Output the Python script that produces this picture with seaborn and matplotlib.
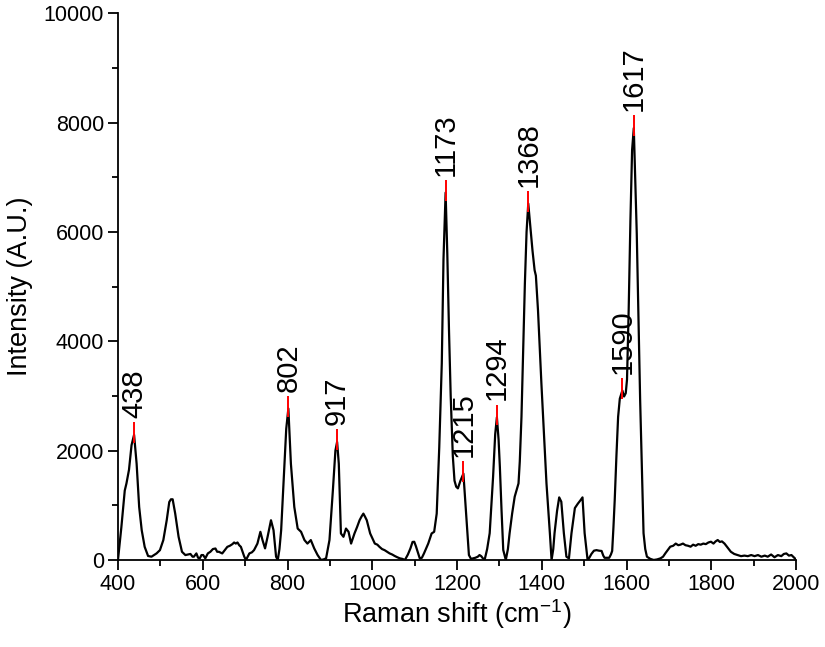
import numpy as np
import pandas as pd
import matplotlib
matplotlib.use("Agg")
import matplotlib.pyplot as plt
from matplotlib.ticker import MultipleLocator
import seaborn as sns

# Raman spectrum
raman_shift = [
    400, 408, 416, 420, 426, 432, 438, 444, 450, 456, 463, 471, 479, 487, 491, 499,
    507, 515, 521, 525, 529, 535, 543, 551, 559, 565, 571, 576, 579, 585, 589, 593,
    597, 601, 606, 612, 618, 624, 630, 634, 638, 646, 652, 658, 664, 670, 674, 678,
    682, 686, 690, 694, 698, 702, 706, 710, 716, 721, 729, 736, 741, 747, 753, 761,
    767, 773, 777, 781, 785, 793, 797, 802, 808, 816, 824, 832, 840, 847, 855, 863,
    871, 879, 885, 891, 899, 907, 913, 917, 921, 926, 932, 938, 944, 950, 958, 964,
    970, 975, 979, 983, 987, 995, 1006, 1012, 1017, 1023, 1029, 1035, 1041, 1047, 1053, 1059,
    1065, 1071, 1077, 1084, 1090, 1095, 1099, 1103, 1107, 1112, 1117, 1122, 1132, 1140, 1146, 1152,
    1158, 1164, 1168, 1173, 1177, 1181, 1185, 1190, 1194, 1198, 1202, 1208, 1215, 1222, 1228, 1233,
    1238, 1243, 1249, 1253, 1257, 1261, 1265, 1271, 1277, 1285, 1290, 1294, 1298, 1301, 1305, 1309,
    1315, 1320, 1324, 1330, 1336, 1345, 1348, 1352, 1356, 1360, 1364, 1368, 1373, 1378, 1383, 1386,
    1391, 1395, 1399, 1405, 1411, 1419, 1423, 1427, 1430, 1436, 1441, 1446, 1452, 1458, 1464, 1470,
    1478, 1485, 1491, 1496, 1501, 1508, 1512, 1517, 1523, 1529, 1535, 1541, 1545, 1548, 1554, 1559,
    1563, 1566, 1569, 1572, 1576, 1580, 1584, 1590, 1594, 1598, 1601, 1605, 1609, 1613, 1617, 1620,
    1624, 1628, 1632, 1636, 1640, 1644, 1648, 1656, 1664, 1672, 1680, 1686, 1692, 1698, 1703, 1710,
    1716, 1722, 1727, 1733, 1739, 1745, 1751, 1757, 1763, 1769, 1775, 1781, 1787, 1793, 1799, 1805,
    1810, 1815, 1820, 1825, 1831, 1838, 1846, 1854, 1862, 1870, 1878, 1886, 1894, 1902, 1910, 1918,
    1926, 1933, 1941, 1949, 1957, 1965, 1971, 1977, 1983, 1989, 1993, 1997, 2000,
]
intensity = [
    0, 600, 1270, 1400, 1650, 2100, 2290, 1760, 970, 545, 240, 73, 60, 100, 120, 180,
    364, 727, 1060, 1110, 1110, 850, 424, 150, 90, 100, 110, 60, 60, 120, 40, 30,
    90, 90, 30, 120, 150, 200, 210, 150, 150, 120, 180, 240, 260, 290, 320, 300,
    320, 270, 240, 150, 60, 0, 60, 120, 140, 180, 300, 515, 364, 212, 424, 727,
    545, 60, 0, 200, 545, 1760, 2400, 2770, 1760, 970, 575, 515, 364, 300, 364, 212,
    90, 0, 10, 30, 364, 1270, 2000, 2160, 1760, 485, 424, 575, 515, 300, 485, 600,
    727, 800, 848, 790, 727, 485, 300, 280, 240, 200, 180, 150, 120, 100, 73, 50,
    30, 20, 0, 100, 212, 330, 333, 250, 150, 30, 40, 120, 300, 485, 515, 848,
    2060, 3600, 5500, 6720, 5600, 4200, 3000, 1900, 1450, 1340, 1310, 1450, 1580, 790, 90, 20,
    30, 40, 60, 90, 70, 30, 0, 200, 490, 1520, 2300, 2610, 2200, 1704, 900, 183,
    0, 200, 490, 850, 1157, 1400, 1800, 2617, 3800, 5050, 6000, 6520, 6100, 5660, 5300, 5200,
    4565, 3900, 3230, 2300, 1400, 490, 0, 200, 490, 900, 1145, 1065, 490, 60, 30, 490,
    950, 1030, 1090, 1145, 490, 0, 40, 110, 170, 180, 170, 165, 80, 40, 40, 40,
    100, 165, 600, 1096, 1900, 2617, 2950, 3100, 2990, 3050, 3300, 4600, 6200, 7500, 7900, 7100,
    5970, 4400, 2920, 1700, 490, 200, 60, 20, 0, 10, 30, 60, 128, 190, 243, 260,
    300, 270, 280, 300, 270, 260, 243, 280, 260, 290, 280, 300, 290, 320, 334, 300,
    340, 365, 330, 340, 300, 230, 150, 110, 90, 70, 80, 70, 90, 70, 90, 60,
    80, 60, 100, 50, 90, 70, 110, 120, 80, 90, 60, 30, 0,
]

# labelled peaks
peak_positions = [438, 802, 917, 1173, 1215, 1294, 1368, 1590, 1617]

x_ticks = [400, 600, 800, 1000, 1200, 1400, 1600, 1800, 2000]
y_ticks = [0, 2000, 4000, 6000, 8000, 10000]

sns.set_style("ticks")
plt.rcParams["font.family"] = ["Liberation Sans", "DejaVu Sans"]
plt.rcParams["mathtext.fontset"] = "custom"
plt.rcParams["mathtext.rm"] = "Liberation Sans"
plt.rcParams["mathtext.it"] = "Liberation Sans:italic"
for key in ["text.color", "axes.labelcolor", "xtick.color", "ytick.color", "axes.edgecolor"]:
    plt.rcParams[key] = "black"

df = pd.DataFrame({"shift": raman_shift, "intensity": intensity})

fig = plt.figure(figsize=(8.25, 6.47), dpi=100)
ax = fig.add_axes([0.143, 0.1345, 0.822, 0.845])

sns.lineplot(data=df, x="shift", y="intensity", color="black", linewidth=1.6, ax=ax)

peak_heights = np.interp(peak_positions, raman_shift, intensity)
for px, py in zip(peak_positions, peak_heights):
    ax.vlines(px, py - 150, py + 230, color="red", linewidth=1.4, zorder=3)
    ax.text(px, py + 310, str(px), rotation=90, ha="center", va="bottom", fontsize=21)

ax.set_xlim(400, 2000)
ax.set_ylim(0, 10000)
ax.set_xticks(x_ticks)
ax.set_yticks(y_ticks)
ax.xaxis.set_minor_locator(MultipleLocator(100))
ax.yaxis.set_minor_locator(MultipleLocator(1000))
ax.tick_params(which="major", direction="out", length=7, width=1.3, labelsize=15.5, pad=3)
ax.tick_params(which="minor", direction="out", length=4, width=1.3)
ax.set_xlabel("Raman shift (cm$^{-1}$)", fontsize=19.5, labelpad=2)
ax.set_ylabel("Intensity (A.U.)", fontsize=19.5, labelpad=8)
for side in ["left", "bottom"]:
    ax.spines[side].set_linewidth(1.3)
sns.despine(ax=ax)

fig.savefig("out.png", dpi=100)
